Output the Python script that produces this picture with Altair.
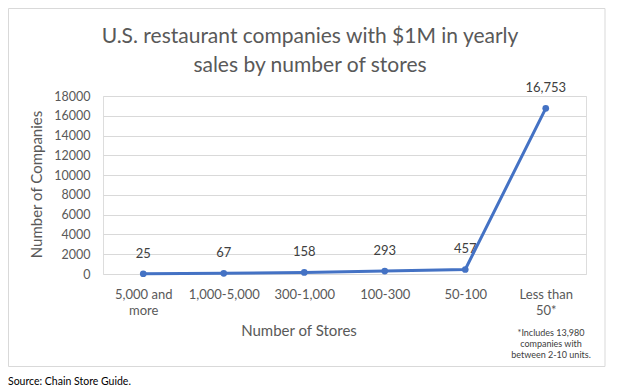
import altair as alt
import pandas as pd

categories = ["5,000 and more", "1,000-5,000", "300-1,000", "100-300", "50-100", "Less than 50*"]
companies = [25, 67, 158, 293, 457, 16753]
value_labels = ["25", "67", "158", "293", "457", "16,753"]
y_ticks = [0, 2000, 4000, 6000, 8000, 10000, 12000, 14000, 16000, 18000]
title_lines = ["U.S. restaurant companies with $1M in yearly", "sales by number of stores"]
x_title = "Number of Stores"
y_title = "Number of Companies"
footnote = ["*Includes 13,980", "companies with", "between 2-10 units."]
source = "Source: Chain Store Guide."

FONT = "Lato"
GRAY = "#595959"
BLUE = "#4472C4"

df = pd.DataFrame({"cat": categories, "val": companies, "lab": value_labels})

x_enc = alt.X(
    "cat:N",
    sort=categories,
    title=None,
    scale=alt.Scale(type="point", padding=0.5),
    axis=alt.Axis(
        labelAngle=0,
        domain=False,
        ticks=False,
        labelPadding=14,
        labelFontSize=13,
        labelColor=GRAY,
        labelFont=FONT,
        labelLineHeight=16,
        labelExpr="datum.value == '5,000 and more' ? ['5,000 and', 'more'] : datum.value == 'Less than 50*' ? ['Less than', '50*'] : datum.value",
    ),
)
y_enc = alt.Y(
    "val:Q",
    title=None,
    scale=alt.Scale(domain=[0, 18000], nice=False),
    axis=alt.Axis(
        values=y_ticks,
        format="d",
        domain=False,
        ticks=False,
        labelPadding=13,
        labelFontSize=12.5,
        labelColor=GRAY,
        labelFont=FONT,
        gridColor="#d9d9d9",
        gridWidth=1,
    ),
)

base = alt.Chart(df)
line = base.mark_line(color=BLUE, strokeWidth=3).encode(x=x_enc, y=y_enc)
pts = base.mark_circle(color=BLUE, size=45, opacity=1).encode(x=x_enc, y=y_enc)
labels = base.mark_text(dy=-20, fontSize=13, font=FONT, color="#404040").encode(
    x=x_enc, y=y_enc, text="lab:N"
)

one = pd.DataFrame({"k": [0]})

frame = alt.Chart(one).mark_rect(fill=None, stroke="#d9d9d9", strokeWidth=1).encode(
    x=alt.value(-94.5), x2=alt.value(502), y=alt.value(-87.5), y2=alt.value(270.5)
)
title1 = alt.Chart(one).mark_text(
    text=title_lines[0], font=FONT, fontSize=21, color=GRAY, baseline="alphabetic", align="center"
).encode(x=alt.value(207), y=alt.value(-53.5))
title2 = alt.Chart(one).mark_text(
    text=title_lines[1], font=FONT, fontSize=21, color=GRAY, baseline="alphabetic", align="center"
).encode(x=alt.value(207), y=alt.value(-24.5))
xt = alt.Chart(one).mark_text(
    text=x_title, font=FONT, fontSize=15, color=GRAY, baseline="alphabetic", align="center"
).encode(x=alt.value(196), y=alt.value(239.5))
yt = alt.Chart(one).mark_text(
    text=y_title, font=FONT, fontSize=15, color=GRAY, baseline="middle", align="center", angle=270
).encode(x=alt.value(-66), y=alt.value(88.5))
fn = alt.Chart(one).mark_text(
    text=footnote, font=FONT, fontSize=9, color="#404040", baseline="middle", align="center", lineHeight=11
).encode(x=alt.value(448), y=alt.value(236.5))
src = alt.Chart(one).mark_text(
    text=source, font=FONT, fontSize=10.5, color="#000000", baseline="middle", align="left"
).encode(x=alt.value(-95), y=alt.value(285.5))

chart = alt.layer(frame, line, pts, labels, title1, title2, xt, yt, fn, src).properties(
    width=483,
    height=178,
    autosize=alt.AutoSizeParams(type="none"),
    padding={"left": 95, "top": 88, "right": 23, "bottom": 117},
).configure_view(stroke=None).configure(background="white")

chart.save("out.html", embed_options={"renderer": "svg", "actions": False})
